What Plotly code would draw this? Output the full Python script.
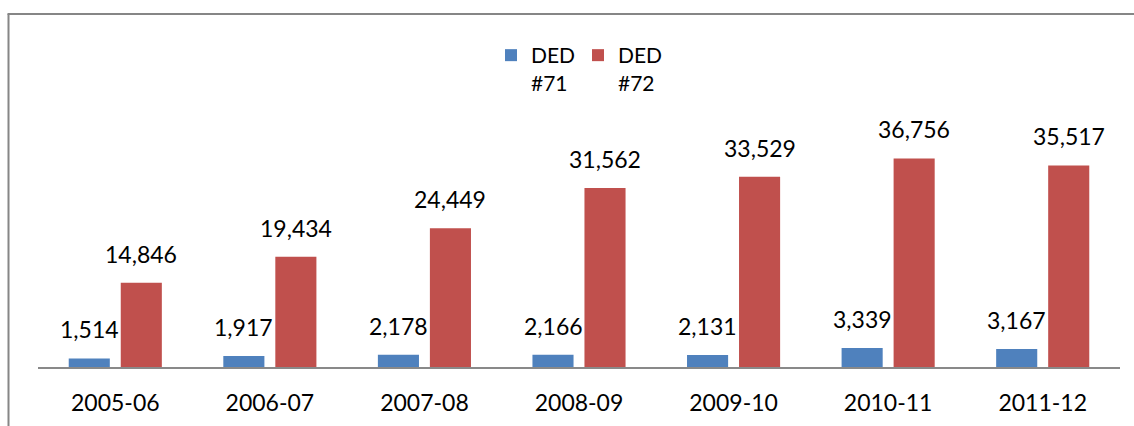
import plotly.graph_objects as go

categories = ["2005-06", "2006-07", "2007-08", "2008-09", "2009-10", "2010-11", "2011-12"]
ded71 = [1514, 1917, 2178, 2166, 2131, 3339, 3167]
ded72 = [14846, 19434, 24449, 31562, 33529, 36756, 35517]
series_names = ["DED<br>#71", "DED<br>#72"]
colors = ["#4F81BD", "#C0504D"]

FONT = "Lato, 'Liberation Sans', Arial, sans-serif"

fig = go.Figure()
for name, vals, col in zip(series_names, [ded71, ded72], colors):
    fig.add_trace(go.Bar(x=categories, y=vals, name=name, marker=dict(color=col, line=dict(width=0))))

annotations = []
for vals, shift in [(ded71, -26), (ded72, 26)]:
    for c, v in zip(categories, vals):
        annotations.append(dict(x=c, y=v, text=f"{v:,}", showarrow=False, xref="x", yref="y",
                                yanchor="bottom", xshift=shift, yshift=13,
                                font=dict(family=FONT, size=23, color="#000000")))

# chart border (left and top edges visible)
W, H = 1134, 426
ml, mr, mt, mb = 38, 14, 140, 59
pw, ph = W - ml - mr, H - mt - mb
def px(x): return (x - ml) / pw
def py(y): return (H - mb - y) / ph

shapes = [
    dict(type="line", xref="paper", yref="paper", x0=px(8.5), x1=px(8.5), y0=py(14), y1=py(440),
         line=dict(color="#868686", width=2)),
    dict(type="line", xref="paper", yref="paper", x0=px(7.5), x1=px(1140), y0=py(14), y1=py(14),
         line=dict(color="#868686", width=2)),
]

fig.update_layout(
    width=W, height=H,
    margin=dict(l=ml, r=mr, t=mt, b=mb, autoexpand=False),
    paper_bgcolor="white", plot_bgcolor="white",
    barmode="group", bargap=0.327, bargroupgap=0.21,
    showlegend=True,
    legend=dict(orientation="h", x=px(578), xanchor="center", y=py(35), yanchor="top",
                font=dict(family=FONT, size=21, color="#000000"), traceorder="normal",
                valign="top", entrywidth=42, entrywidthmode="pixels",
                bgcolor="rgba(0,0,0,0)"),
    annotations=annotations,
    shapes=shapes,
    font=dict(family=FONT, color="#000000"),
)
fig.update_xaxes(type="category", showline=True, linecolor="#898989", linewidth=2, showgrid=False, ticks="",
                 tickfont=dict(family=FONT, size=23, color="#000000"), ticklabelstandoff=14,
                 fixedrange=True, automargin=False)
fig.update_yaxes(range=[0, 40000], showgrid=False, showticklabels=False, zeroline=False,
                 showline=False, fixedrange=True, automargin=False)

fig.write_html("out.html", config={"displayModeBar": False},
               post_script="document.body.style.margin='0';document.body.style.overflow='hidden';")
